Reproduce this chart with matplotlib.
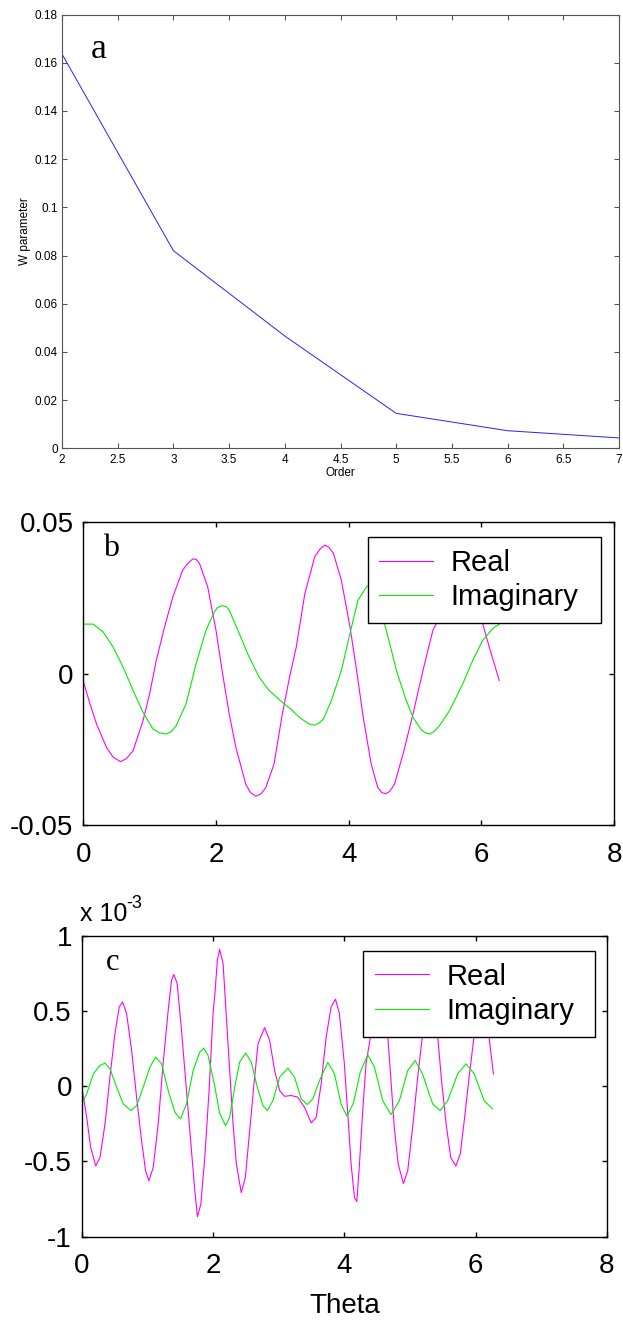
import matplotlib
matplotlib.use("Agg")
import matplotlib.pyplot as plt
from matplotlib.ticker import FuncFormatter

plt.rcParams['font.family'] = ['Liberation Sans', 'DejaVu Sans']
plt.rcParams['axes.unicode_minus'] = False

# ---- panel a: W parameter vs order ----
order = [2, 3, 4, 5, 6, 7]
w_param = [0.1636, 0.0820, 0.0466, 0.0145, 0.0073, 0.0043]

# ---- panel b: coefficients vs theta ----
theta_b_real = [0.00, 0.10, 0.20, 0.35, 0.45, 0.56, 0.65, 0.75, 0.90, 1.00, 1.10,
                1.225, 1.35, 1.50, 1.58, 1.65, 1.70, 1.75, 1.875, 2.00, 2.10, 2.20,
                2.30, 2.45, 2.52, 2.60, 2.68, 2.75, 2.875, 3.00, 3.11, 3.21, 3.34,
                3.49, 3.57, 3.64, 3.70, 3.77, 3.89, 4.02, 4.12, 4.22, 4.34, 4.44,
                4.50, 4.56, 4.62, 4.69, 4.82, 4.97, 5.12, 5.27, 5.35, 5.50, 5.65,
                5.85, 6.02, 6.12, 6.27]
real_b = [-0.0024, -0.0099, -0.0166, -0.0243, -0.0275, -0.0290, -0.0280, -0.0254,
          -0.0155, -0.0066, 0.0044, 0.0155, 0.0254, 0.0343, 0.0365, 0.0379, 0.0378,
          0.0365, 0.0287, 0.0144, 0.0000, -0.0133, -0.0243, -0.0365, -0.0392,
          -0.0404, -0.0396, -0.0376, -0.0298, -0.0133, -0.0010, 0.0088, 0.0265,
          0.0387, 0.0412, 0.0425, 0.0418, 0.0398, 0.0309, 0.0155, 0.0011, -0.0144,
          -0.0298, -0.0376, -0.0392, -0.0396, -0.0388, -0.0365, -0.0265, -0.0133,
          0.0011, 0.0144, 0.0177, 0.0300, 0.0350, 0.0290, 0.0166, 0.0088, -0.0022]

theta_b_imag = [0.00, 0.15, 0.30, 0.45, 0.60, 0.75, 0.90, 1.05, 1.15, 1.25, 1.33,
                1.40, 1.55, 1.70, 1.85, 1.975, 2.02, 2.09, 2.15, 2.20, 2.35, 2.50,
                2.65, 2.80, 3.00, 3.13, 3.26, 3.39, 3.44, 3.49, 3.55, 3.62, 3.74,
                3.89, 4.02, 4.14, 4.27, 4.38, 4.54, 4.62, 4.72, 4.85, 4.97, 5.10,
                5.16, 5.22, 5.29, 5.37, 5.52, 5.72, 5.87, 6.02, 6.17, 6.27]
imag_b = [0.0164, 0.0164, 0.0138, 0.0088, 0.0022, -0.0055, -0.0127, -0.0182,
          -0.0195, -0.0199, -0.0190, -0.0171, -0.0099, 0.0033, 0.0144, 0.0204,
          0.0218, 0.0225, 0.0222, 0.0210, 0.0133, 0.0055, -0.0011, -0.0055, -0.0094,
          -0.0117, -0.0144, -0.0164, -0.0168, -0.0169, -0.0163, -0.0149, -0.0088,
          0.0011, 0.0133, 0.0243, 0.0287, 0.0300, 0.0166, 0.0099, 0.0011, -0.0077,
          -0.0144, -0.0186, -0.0195, -0.0199, -0.0190, -0.0171, -0.0122, -0.0033,
          0.0044, 0.0110, 0.0149, 0.0164]

# ---- panel c: coefficients vs theta (units of 1e-3) ----
theta_c_real = [0.00, 0.076, 0.137, 0.213, 0.279, 0.355, 0.43, 0.506, 0.572, 0.623,
                0.684, 0.76, 0.836, 0.912, 0.973, 1.023, 1.089, 1.165, 1.24, 1.317,
                1.368, 1.403, 1.454, 1.52, 1.596, 1.672, 1.723, 1.763, 1.814, 1.875,
                1.94, 2.00, 2.03, 2.066, 2.10, 2.153, 2.20, 2.254, 2.305, 2.356, 2.43,
                2.492, 2.558, 2.624, 2.685, 2.786, 2.862, 2.938, 3.014, 3.09, 3.19,
                3.292, 3.393, 3.495, 3.571, 3.647, 3.723, 3.799, 3.865, 3.925, 4.00,
                4.052, 4.103, 4.154, 4.19, 4.23, 4.28, 4.33, 4.397, 4.47, 4.53, 4.60,
                4.66, 4.71, 4.76, 4.82, 4.90, 4.965, 5.04, 5.117, 5.19, 5.30, 5.42,
                5.48, 5.55, 5.62, 5.698, 5.765, 5.826, 5.90, 5.977, 6.09, 6.20, 6.27]
real_c = [0.00, -0.207, -0.407, -0.529, -0.473, -0.251, 0.06, 0.349, 0.527, 0.56,
          0.482, 0.238, -0.073, -0.362, -0.562, -0.629, -0.54, -0.251, 0.149, 0.504,
          0.704, 0.742, 0.682, 0.371, -0.029, -0.429, -0.696, -0.867, -0.784, -0.473,
          -0.029, 0.482, 0.62, 0.838, 0.909, 0.816, 0.482, 0.104, -0.251, -0.518,
          -0.707, -0.607, -0.296, 0.016, 0.282, 0.389, 0.304, 0.104, -0.029, -0.067,
          -0.062, -0.073, -0.14, -0.244, -0.207, 0.016, 0.327, 0.527, 0.578, 0.482,
          0.149, -0.184, -0.518, -0.74, -0.767, -0.518, -0.162, 0.149, 0.327, 0.55,
          0.60, 0.52, 0.338, 0.038, -0.273, -0.518, -0.647, -0.562, -0.273, 0.06,
          0.338, 0.52, 0.338, 0.038, -0.251, -0.473, -0.531, -0.451, -0.229, 0.06,
          0.338, 0.48, 0.338, 0.082]

theta_c_imag = [0.00, 0.076, 0.177, 0.279, 0.355, 0.43, 0.532, 0.633, 0.75, 0.836,
                0.937, 1.039, 1.125, 1.216, 1.317, 1.418, 1.504, 1.596, 1.697, 1.798,
                1.859, 1.925, 2.026, 2.10, 2.19, 2.254, 2.33, 2.406, 2.497, 2.583,
                2.674, 2.76, 2.826, 2.912, 3.014, 3.14, 3.241, 3.343, 3.434, 3.52,
                3.622, 3.748, 3.85, 3.95, 4.04, 4.14, 4.24, 4.356, 4.458, 4.585, 4.71,
                4.838, 4.965, 5.08, 5.19, 5.345, 5.46, 5.574, 5.726, 5.853, 5.977,
                6.129, 6.256]
imag_c = [-0.118, -0.051, 0.082, 0.138, 0.153, 0.116, -0.007, -0.118, -0.162, -0.129,
          -0.007, 0.127, 0.193, 0.149, -0.029, -0.173, -0.218, -0.118, 0.104, 0.227,
          0.253, 0.204, 0.0, -0.178, -0.262, -0.207, -0.007, 0.16, 0.22, 0.16, -0.007,
          -0.129, -0.162, -0.096, 0.06, 0.12, 0.06, -0.084, -0.122, -0.084, 0.038,
          0.158, 0.082, -0.118, -0.2, -0.11, 0.09, 0.209, 0.127, -0.096, -0.189,
          -0.096, 0.104, 0.171, 0.082, -0.118, -0.162, -0.096, 0.082, 0.149, 0.082,
          -0.096, -0.151]

series_labels = ["Real", "Imaginary"]
real_color = "#ff00ff"
imag_color = "#00ee00"

W, H = 623, 1321
fig = plt.figure(figsize=(W / 100, H / 100), dpi=100)


def rect(left, top, right, bottom):
    return [left / W, 1 - bottom / H, (right - left) / W, (bottom - top) / H]


def g_fmt(v, pos):
    return "%g" % round(v, 6)


def style_axes(ax, size, pad_x, pad_y, spine_color, spine_lw, tick_len):
    for s in ax.spines.values():
        s.set_color(spine_color)
        s.set_linewidth(spine_lw)
    ax.tick_params(direction="in", top=True, right=True, length=tick_len,
                   width=spine_lw, color=spine_color, labelsize=size)
    ax.tick_params(axis="x", pad=pad_x)
    ax.tick_params(axis="y", pad=pad_y)
    ax.xaxis.set_major_formatter(FuncFormatter(g_fmt))
    ax.yaxis.set_major_formatter(FuncFormatter(g_fmt))


def add_legend(ax, x0, y0, width):
    leg = ax.legend(loc="upper left", bbox_to_anchor=(x0, y0, width, 0.0),
                    mode="expand", borderaxespad=0, fontsize=21,
                    handlelength=1.85, handletextpad=0.6, borderpad=0.4,
                    labelspacing=0.22, fancybox=False, framealpha=1,
                    edgecolor="black")
    leg.get_frame().set_linewidth(1.0)
    return leg


# panel a
ax_a = fig.add_axes(rect(62, 14.5, 619, 448.3))
ax_a.plot(order, w_param, color="#2222ff", lw=0.7)
ax_a.set_xlim(2, 7)
ax_a.set_ylim(0, 0.18)
ax_a.set_xticks([2, 2.5, 3, 3.5, 4, 4.5, 5, 5.5, 6, 6.5, 7])
ax_a.set_yticks([0, 0.02, 0.04, 0.06, 0.08, 0.1, 0.12, 0.14, 0.16, 0.18])
style_axes(ax_a, 8.5, 4, 3, "#555555", 0.8, 3.3)
ax_a.set_xlabel("Order", fontsize=8.5, labelpad=1)
ax_a.set_ylabel("W parameter", fontsize=8.5, labelpad=3)
fig.text(99 / W, 1 - 50 / H, "a", family="Liberation Serif", fontsize=26,
         ha="center", va="center")

# panel b
ax_b = fig.add_axes(rect(83.3, 522.3, 614, 825.3))
ax_b.plot(theta_b_real, real_b, color=real_color, lw=0.8, label=series_labels[0])
ax_b.plot(theta_b_imag, imag_b, color=imag_color, lw=0.8, label=series_labels[1])
ax_b.set_xlim(0, 8)
ax_b.set_ylim(-0.05, 0.05)
ax_b.set_xticks([0, 2, 4, 6, 8])
ax_b.set_yticks([-0.05, 0, 0.05])
style_axes(ax_b, 20, 12, 7, "black", 1.0, 3.3)
fig.text(111 / W, 1 - 549 / H, "b", family="Liberation Serif", fontsize=23,
         ha="center", va="center")
add_legend(ax_b, (367.7 - 83.3) / 530.7, 1 - (537.3 - 522.3) / 303, 233 / 530.7)

# panel c
ax_c = fig.add_axes(rect(81.7, 935.7, 607, 1236.7))
ax_c.plot(theta_c_real, real_c, color=real_color, lw=0.8, label=series_labels[0])
ax_c.plot(theta_c_imag, imag_c, color=imag_color, lw=0.8, label=series_labels[1])
ax_c.set_xlim(0, 8)
ax_c.set_ylim(-1, 1)
ax_c.set_xticks([0, 2, 4, 6, 8])
ax_c.set_yticks([-1, -0.5, 0, 0.5, 1])
style_axes(ax_c, 20, 12, 7, "black", 1.0, 3.3)
ax_c.set_xlabel("Theta", fontsize=20, labelpad=10)
# axis multiplier "x 10^-3" above the y axis
fig.text(80 / W, 1 - 921 / H, "x 10", fontsize=18, ha="left", va="baseline")
fig.text(126 / W, 1 - 908 / H, "-3", fontsize=13, ha="left", va="baseline")
fig.text(113 / W, 1 - 962 / H, "c", family="Liberation Serif", fontsize=22,
         ha="center", va="center")
add_legend(ax_c, (363.3 - 81.7) / 525.3, 1 - (951 - 935.7) / 301, 232 / 525.3)

fig.savefig("out.png", dpi=100)
